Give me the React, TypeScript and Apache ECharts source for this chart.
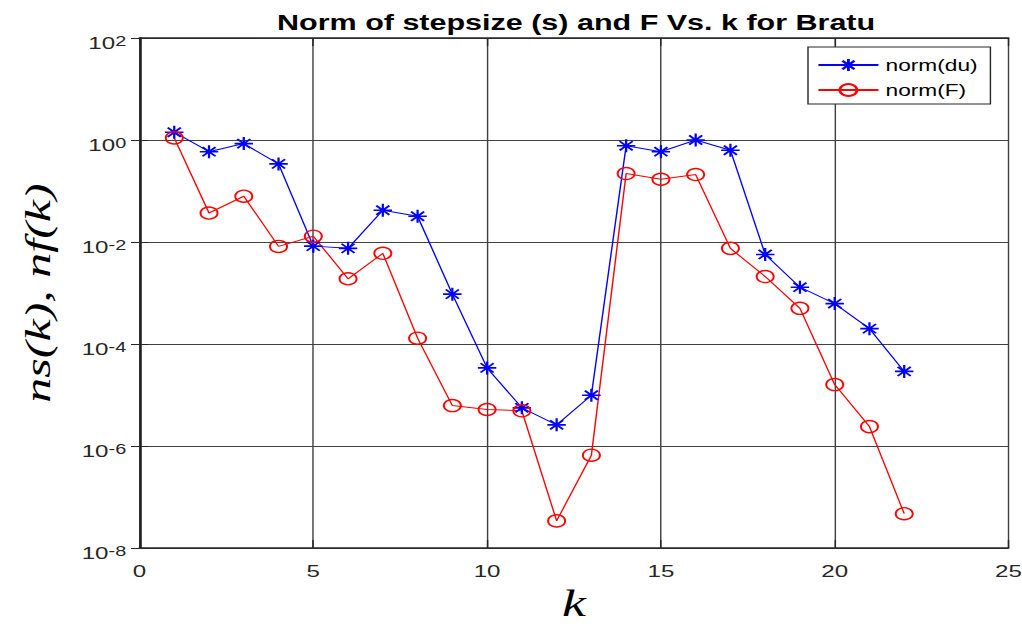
import React, { useEffect, useRef } from "react";
import * as echarts from "echarts";

// Newton iterations for the Bratu problem
const iterations = [1, 2, 3, 4, 5, 6, 7, 8, 9, 10, 11, 12, 13, 14, 15, 16, 17, 18, 19, 20, 21, 22];

// ||du|| per iteration
const stepNorm = [
  1.42, 0.59, 0.85, 0.34, 0.0083, 0.0075, 0.042, 0.032, 9.5e-4, 3.4e-5, 5.6e-6,
  2.6e-6, 9.9e-6, 0.77, 0.59, 1.0, 0.63, 0.0057, 0.0013, 6.2e-4, 2.0e-4, 2.9e-5,
];

// ||F|| per iteration
const residualNorm = [
  1.1, 0.037, 0.079, 0.0082, 0.013, 0.0019, 0.006, 1.3e-4, 6.2e-6, 5.2e-6, 4.9e-6,
  3.4e-8, 6.6e-7, 0.22, 0.17, 0.21, 0.0075, 0.0021, 5.0e-4, 1.6e-5, 2.4e-6, 4.7e-8,
];

const seriesNames = ["norm(du)", "norm(F)"];
const chartTitle = "Norm of stepsize (s) and F Vs. k for Bratu";
const xAxisName = "k";
const yAxisName = "ns(k), nf(k)";

// Axis ranges
const kRange = [0, 25];
const kStep = 5;
const normRange = [1e-8, 1e2];

// The figure is drawn on a narrower canvas and widened horizontally.
const FULL_W = 1022;
const FULL_H = 624;
const INNER_W = 720;
const STRETCH = FULL_W / INNER_W;
const u = (px: number) => px / STRETCH;

const BLUE = "#0000ff";
const RED = "#ff0000";
const AXIS_COLOR = "#262626";
const GRID_COLOR = "#404040";

const asteriskSymbol =
  "path://M0,-10L0,10M-10,0L10,0M-7.07,-7.07L7.07,7.07M-7.07,7.07L7.07,-7.07";

const plotLeft = u(139.5);
const plotRight = u(1008.5);

function buildOption() {
  const axisLine = { show: true, lineStyle: { color: AXIS_COLOR, width: 1.5 } };

  const powerLabel = (v: number) => {
    const e = Math.round(Math.log10(v));
    return `{b|10}{e|${e}}`;
  };

  const yAxisCommon = {
    type: "log",
    logBase: 10,
    min: normRange[0],
    max: normRange[1],
    interval: 2,
    splitNumber: 5,
    axisLine,
    minorTick: { show: false },
    minorSplitLine: { show: false },
  };

  const xAxisCommon = {
    type: "value",
    min: kRange[0],
    max: kRange[1],
    interval: kStep,
    axisLine,
  };

  return {
    animation: false,
    backgroundColor: "#ffffff",
    title: {
      text: chartTitle,
      left: u(569),
      top: 7,
      textAlign: "center",
      textStyle: {
        fontFamily: "Liberation Sans",
        fontWeight: "bold",
        fontSize: 21.5,
        color: "#000000",
      },
    },
    grid: {
      left: plotLeft,
      right: INNER_W - plotRight,
      top: 38,
      bottom: FULL_H - 548,
      containLabel: false,
      outerBoundsMode: "none",
      show: false,
    },
    legend: {
      orient: "vertical",
      left: u(808),
      top: 47,
      padding: [10, 9, 6, u(9)],
      itemGap: 9,
      itemWidth: u(60),
      itemHeight: 15,
      backgroundColor: "#ffffff",
      borderColor: AXIS_COLOR,
      borderWidth: 1,
      borderRadius: 0,
      textStyle: {
        fontFamily: "Liberation Sans",
        fontSize: 16,
        lineHeight: 16,
        color: "#000000",
      },
      data: seriesNames,
    },
    xAxis: [
      {
        ...xAxisCommon,
        position: "bottom",
        name: xAxisName,
        nameLocation: "middle",
        nameGap: 35,
        nameTextStyle: {
          fontFamily: "Liberation Serif",
          fontStyle: "italic",
          fontSize: 38,
          lineHeight: 34,
          color: "#000000",
        },
        axisTick: { show: true, inside: true, length: 8, lineStyle: { color: AXIS_COLOR } },
        axisLabel: {
          margin: 14,
          fontFamily: "Liberation Sans",
          fontSize: 17,
          color: AXIS_COLOR,
        },
        splitLine: { show: true, lineStyle: { color: GRID_COLOR, width: 1 } },
      },
      {
        ...xAxisCommon,
        position: "top",
        axisTick: { show: true, inside: true, length: 8, lineStyle: { color: AXIS_COLOR } },
        axisLabel: { show: false },
        splitLine: { show: false },
      },
    ],
    yAxis: [
      {
        ...yAxisCommon,
        position: "left",
        axisTick: { show: true, inside: true, length: 6, lineStyle: { color: AXIS_COLOR } },
        axisLabel: {
          margin: u(13.3),
          formatter: powerLabel,
          padding: [9, 0, 0, 0],
          color: AXIS_COLOR,
          fontFamily: "Liberation Sans",
          rich: {
            b: { fontSize: 17, lineHeight: 17, verticalAlign: "bottom", fontFamily: "Liberation Sans", color: AXIS_COLOR },
            e: { fontSize: 14, lineHeight: 14, verticalAlign: "top", padding: [0, 0, 10, 0], fontFamily: "Liberation Sans", color: AXIS_COLOR },
          },
        },
        splitLine: { show: true, lineStyle: { color: GRID_COLOR, width: 1 } },
      },
      {
        ...yAxisCommon,
        position: "right",
        axisTick: { show: true, inside: true, length: 6, lineStyle: { color: AXIS_COLOR } },
        axisLabel: { show: false },
        splitLine: { show: false },
      },
    ],
    series: [
      {
        name: seriesNames[0],
        type: "line",
        xAxisIndex: 0,
        yAxisIndex: 0,
        data: iterations.map((k, i) => [k, stepNorm[i]]),
        symbol: asteriskSymbol,
        symbolSize: 13,
        lineStyle: { color: BLUE, width: 1 },
        itemStyle: { color: BLUE, borderColor: BLUE, borderWidth: 1.6 },
        emphasis: { disabled: true },
      },
      {
        name: seriesNames[1],
        type: "line",
        xAxisIndex: 0,
        yAxisIndex: 0,
        data: iterations.map((k, i) => [k, residualNorm[i]]),
        symbol: "circle",
        symbolSize: 12,
        lineStyle: { color: RED, width: 1 },
        itemStyle: { color: "transparent", borderColor: RED, borderWidth: 1.4 },
        emphasis: { disabled: true },
      },
    ],
    graphic: [
      {
        type: "text",
        x: u(38),
        y: 293,
        rotation: Math.PI / 2,
        scaleY: 0.5,
        style: {
          text: yAxisName,
          font: 'italic 50px "Liberation Serif"',
          fill: "#000000",
          align: "center",
          verticalAlign: "middle",
          textAlign: "center",
          textVerticalAlign: "middle",
        },
      },
    ],
  };
}

export default function App() {
  const ref = useRef<HTMLDivElement>(null);

  useEffect(() => {
    if (!ref.current) return;
    const chart = echarts.init(ref.current, undefined, { renderer: "svg" });
    chart.setOption(buildOption() as any);
    return () => chart.dispose();
  }, []);

  return (
    <div
      style={{
        position: "fixed",
        left: 0,
        top: 0,
        width: FULL_W,
        height: FULL_H,
        overflow: "hidden",
        background: "#ffffff",
      }}
    >
      <div
        ref={ref}
        style={{
          width: INNER_W,
          height: FULL_H,
          transform: `scaleX(${STRETCH})`,
          transformOrigin: "0 0",
        }}
      />
    </div>
  );
}
